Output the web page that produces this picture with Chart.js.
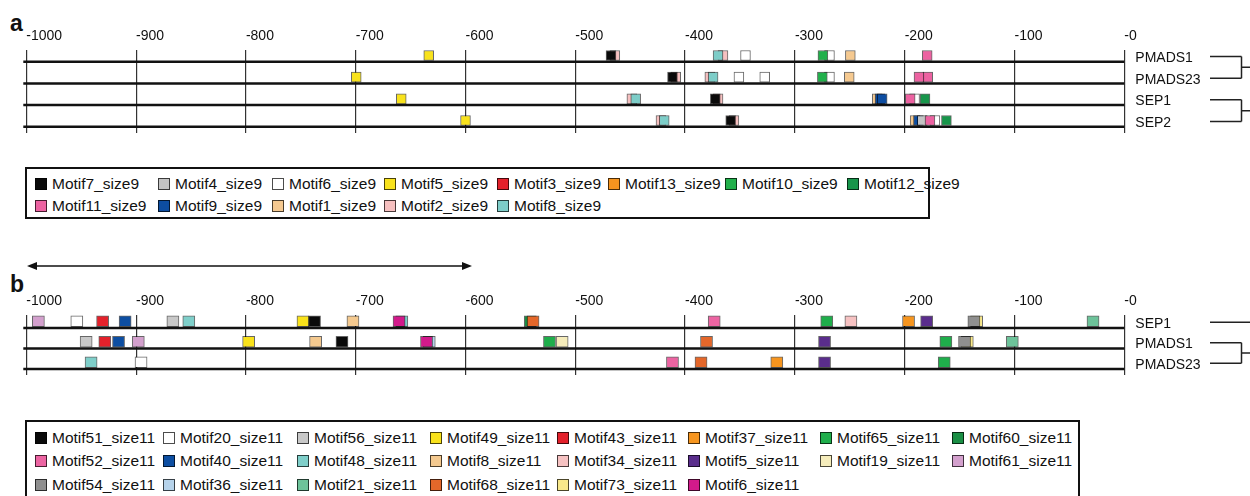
<!DOCTYPE html>
<html><head><meta charset="utf-8">
<script src="https://cdn.jsdelivr.net/npm/chart.js@4.4.1/dist/chart.umd.min.js"></script>
<style>
html,body{margin:0;padding:0;background:#fff;}
body{width:1250px;height:496px;position:relative;overflow:hidden;font-family:"Liberation Sans",Arial,sans-serif;color:#111;}
canvas{position:absolute;left:0;}
#cA{top:0;}
#cB{top:280px;}
.tag{position:absolute;font-weight:bold;font-size:23px;line-height:1;}
.legend{position:absolute;border:2px solid #111;box-sizing:border-box;display:grid;font-size:15.5px;padding-left:8px;}
.item{display:flex;align-items:center;white-space:nowrap;height:21px;}
.sw{width:12px;height:12px;box-sizing:border-box;border:1px solid rgba(0,0,0,.7);margin-right:5px;flex:none;}
</style></head><body>
<div class="tag" style="left:10px;top:12px;">a</div>
<div class="tag" style="left:10px;top:273px;">b</div>
<canvas id="cA" width="1250" height="140"></canvas>
<canvas id="cB" width="1250" height="100"></canvas>
<svg style="position:absolute;left:20px;top:258px" width="460" height="16">
  <line x1="10" y1="8" x2="449" y2="8" stroke="#111" stroke-width="1.6"/>
  <polygon points="7,8 17,4 17,12" fill="#111"/>
  <polygon points="452,8 442,4 442,12" fill="#111"/>
</svg>
<div id="legA" class="legend" style="left:25px;top:167px;width:905px;height:52px;padding-top:4px;grid-template-columns:123px 114px 112px 113px 111px 117px 122px auto;"></div>
<div id="legB" class="legend" style="left:25px;top:420px;width:1055px;height:80px;padding-top:5px;grid-template-columns:128px 134px 133px 127px 131px 132px 132px auto;"></div>
<script>
// ---------- Panel a data ----------
const genesA = ['PMADS1', 'PMADS23', 'SEP1', 'SEP2'];
const motifSizeA = 9;
const motifsA = ['Motif7','Motif4','Motif6','Motif5','Motif3','Motif13','Motif10','Motif12','Motif11','Motif9','Motif1','Motif2','Motif8'];
const colorsA = ['#0a0a0a','#c3c3c3','#ffffff','#f8e21c','#e3212b','#f5941f','#21b04b','#17954a','#ec62a1','#0d4da1','#f5c990','#f6c0c0','#7dcdc8'];
const stackA = ['Motif11','Motif7','Motif8','Motif10','Motif12','Motif4','Motif9','Motif5','Motif3','Motif13','Motif1','Motif2','Motif6'];
const sitesA_PMADS1 = [['Motif5',-638],['Motif7',-472],['Motif2',-468.5],['Motif8',-374.5],['Motif2',-370],['Motif6',-349.5],['Motif10',-279],['Motif6',-273],['Motif1',-254],['Motif11',-184]];
const sitesA_PMADS23 = [['Motif5',-704],['Motif7',-416],['Motif2',-413],['Motif2',-382],['Motif8',-379],['Motif6',-355.5],['Motif6',-332],['Motif10',-279.5],['Motif6',-273],['Motif1',-255],['Motif11',-183.5],['Motif11',-191.5]];
const sitesA_SEP1 = [['Motif5',-663],['Motif2',-453],['Motif8',-449.5],['Motif7',-377],['Motif2',-374.5],['Motif1',-229.5],['Motif9',-227],['Motif9',-225],['Motif11',-199.5],['Motif6',-195.5],['Motif12',-186]];
const sitesA_SEP2 = [['Motif5',-604.5],['Motif2',-426.5],['Motif8',-423.5],['Motif7',-363],['Motif2',-360],['Motif1',-195],['Motif9',-192],['Motif4',-188.5],['Motif11',-181.5],['Motif6',-177],['Motif12',-166.5]];
const sitesA = [sitesA_PMADS1, sitesA_PMADS23, sitesA_SEP1, sitesA_SEP2];
const treeA = [[0, 1], [2, 3]];

// ---------- Panel b data ----------
const genesB = ['SEP1', 'PMADS1', 'PMADS23'];
const motifSizeB = 11;
const motifsB = ['Motif51','Motif20','Motif56','Motif49','Motif43','Motif37','Motif65','Motif60','Motif52','Motif40','Motif48','Motif8','Motif34','Motif5','Motif19','Motif61','Motif54','Motif36','Motif21','Motif68','Motif73','Motif6'];
const colorsB = ['#0a0a0a','#ffffff','#c8c8c8','#f9e21b','#e3212b','#f6951f','#1fae4b','#1a8f45','#ec64a2','#0d4ea2','#7fcfca','#f4c98f','#f6c2c2','#5a2d8c','#f5ecbb','#d3a0cd','#8f8f8f','#b6d3eb','#6dc39a','#e4672a','#f8e88a','#d21a8b'];
const stackB = ['Motif6','Motif68','Motif54','Motif51','Motif49','Motif20','Motif56','Motif43','Motif37','Motif65','Motif52','Motif40','Motif8','Motif34','Motif5','Motif19','Motif61','Motif21','Motif48','Motif36','Motif60','Motif73'];
const sitesB_SEP1 = [['Motif61',-994.5],['Motif20',-959.5],['Motif43',-936],['Motif40',-915.5],['Motif56',-872],['Motif48',-857.5],['Motif49',-753.5],['Motif51',-743],['Motif8',-708],['Motif6',-666],['Motif48',-663.5],['Motif60',-546.5],['Motif68',-544],['Motif52',-379],['Motif65',-276.5],['Motif34',-254.5],['Motif37',-202],['Motif5',-185.5],['Motif54',-142.5],['Motif73',-140],['Motif21',-34]];
const sitesB_PMADS1 = [['Motif56',-951],['Motif43',-934],['Motif40',-921.5],['Motif61',-903.5],['Motif49',-803],['Motif8',-742],['Motif51',-718],['Motif6',-641],['Motif36',-638.5],['Motif65',-529],['Motif19',-517.5],['Motif68',-386],['Motif5',-278.5],['Motif65',-168],['Motif54',-151],['Motif73',-148.5],['Motif21',-107.5]];
const sitesB_PMADS23 = [['Motif48',-946.5],['Motif20',-901],['Motif52',-417],['Motif68',-391],['Motif37',-322],['Motif5',-278.5],['Motif65',-169.5]];
const sitesB = [sitesB_SEP1, sitesB_PMADS1, sitesB_PMADS23];
const treeB = [[0], [1, 2]];

const xTicksMin = -1000, xTicksMax = 0, xStep = 100;

// ---------- helpers ----------
Chart.defaults.font.family = '"Liberation Sans", Arial, sans-serif';
Chart.defaults.color = '#111';
const labelFont = '14px "Liberation Sans", Arial, sans-serif';

const geneLines = {
  id: 'geneLines',
  beforeDatasetsDraw(chart, args, o) {
    const {ctx, chartArea, scales: {y}} = chart;
    ctx.save();
    ctx.strokeStyle = '#111';
    ctx.lineWidth = o.width;
    o.genes.forEach((g, i) => {
      const py = y.getPixelForValue(i) + o.thickness / 2 + o.width / 2;
      ctx.beginPath();
      ctx.moveTo(chartArea.left - 3, py);
      ctx.lineTo(chartArea.right, py);
      ctx.stroke();
    });
    ctx.restore();
  }
};

// gene names on the right plus the bracket tree
const treePlugin = {
  id: 'tree',
  afterDraw(chart, args, o) {
    const {ctx, chartArea, scales: {y}} = chart;
    ctx.save();
    ctx.font = labelFont;
    ctx.fillStyle = '#111';
    ctx.textAlign = 'left';
    ctx.textBaseline = 'middle';
    const labelX = chartArea.right + 11;
    o.genes.forEach((g, i) => ctx.fillText(g, labelX, y.getPixelForValue(i) + o.labelDy));
    ctx.strokeStyle = '#222';
    ctx.lineWidth = 1.5;
    o.groups.forEach(grp => {
      const ys = grp.map(i => y.getPixelForValue(i) + o.dy);
      const xs = grp.map(i => Math.max(o.x0, labelX + ctx.measureText(o.genes[i]).width + 4));
      ctx.beginPath();
      if (grp.length === 1) {
        ctx.moveTo(xs[0], ys[0]); ctx.lineTo(o.x2, ys[0]);
      } else {
        grp.forEach((g, k) => { ctx.moveTo(xs[k], ys[k]); ctx.lineTo(o.x1, ys[k]); });
        ctx.moveTo(o.x1, ys[0]); ctx.lineTo(o.x1, ys[ys.length - 1]);
        const mid = (ys[0] + ys[ys.length - 1]) / 2;
        ctx.moveTo(o.x1, mid); ctx.lineTo(o.x2, mid);
      }
      ctx.stroke();
    });
    ctx.restore();
  }
};

function makeDatasets(motifs, colors, stack, sites, size, label) {
  return motifs.map((m, mi) => {
    const data = [];
    sites.forEach((list, gi) => list.forEach(([name, start]) => {
      if (name === m) data.push({x: [start, start + size], y: gi});
    }));
    return {
      label: m + label,
      data,
      backgroundColor: colors[mi],
      borderColor: 'rgba(0,0,0,0.6)',
      borderWidth: 1,
      borderSkipped: false,
      order: stack.indexOf(m)
    };
  });
}

function makeChart(id, genes, motifs, colors, stack, sites, size, lay) {
  new Chart(document.getElementById(id), {
    type: 'bar',
    data: {datasets: makeDatasets(motifs, colors, stack, sites, size, '_size' + size)},
    options: {
      indexAxis: 'y',
      responsive: false,
      animation: false,
      events: [],
      grouped: false,
      barThickness: lay.thick,
      maxBarThickness: lay.thick,
      layout: {padding: {left: 26.3, right: 0, top: 0, bottom: lay.padBottom}},
      plugins: {
        legend: {display: false},
        tooltip: {enabled: false},
        geneLines: {genes, thickness: lay.thick, width: 2.5},
        tree: {genes, groups: lay.tree, dy: 1, labelDy: 2.5, x0: 1210, x1: 1241.5, x2: 1252}
      },
      scales: {
        x: {
          type: 'linear', position: 'top', min: xTicksMin, max: xTicksMax,
          afterFit: s => { s.height = lay.axisH; },
          afterBuildTicks: s => { const t = []; for (let v = xTicksMin; v <= xTicksMax; v += xStep) t.push({value: v}); s.ticks = t; },
          ticks: {
            align: 'start', padding: 5.5, maxRotation: 0, autoSkip: false,
            font: {size: 14}, color: '#111',
            callback: v => v === 0 ? '-0' : String(v)
          },
          grid: {color: '#333', lineWidth: 1.2, drawTicks: false},
          border: {display: false}
        },
        y: {
          type: 'linear', position: 'right', reverse: true, offset: false, min: lay.ymin, max: lay.ymax,
          afterFit: s => { s.width = 1250 - 1124.3; },
          afterBuildTicks: s => { s.ticks = genes.map((g, i) => ({value: i})); },
          ticks: {display: false},
          grid: {display: false, drawTicks: false},
          border: {display: false}
        }
      }
    },
    plugins: [geneLines, treePlugin]
  });
}

makeChart('cA', genesA, motifsA, colorsA, stackA, sitesA, motifSizeA,
  {thick: 10, axisH: 50, padBottom: 7, ymin: -0.254, ymax: 3.576, tree: treeA});
makeChart('cB', genesB, motifsB, colorsB, stackB, sitesB, motifSizeB,
  {thick: 11, axisH: 35, padBottom: 5, ymin: -0.305, ymax: 2.622, tree: treeB});

function buildLegend(el, motifs, colors, size) {
  motifs.forEach((m, i) => {
    const it = document.createElement('div');
    it.className = 'item';
    const sw = document.createElement('span');
    sw.className = 'sw';
    sw.style.background = colors[i];
    it.appendChild(sw);
    it.appendChild(document.createTextNode(m + '_size' + size));
    el.appendChild(it);
  });
}
buildLegend(document.getElementById('legA'), motifsA, colorsA, motifSizeA);
buildLegend(document.getElementById('legB'), motifsB, colorsB, motifSizeB);
</script>
</body></html>
